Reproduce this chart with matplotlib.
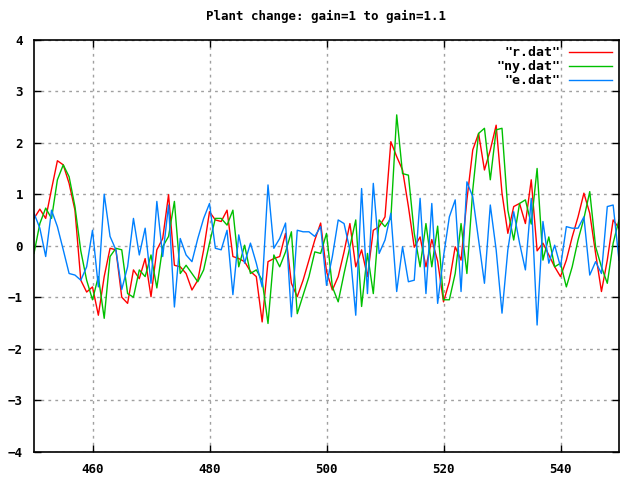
import numpy as np
import matplotlib
matplotlib.use("Agg")
import matplotlib.pyplot as plt

# sample index 450..550
x = np.arange(450, 551)

r_dat = [0.53, 0.71, 0.53, 1.10, 1.65, 1.57, 1.21, 0.69, -0.67, -0.90,
         -0.80, -1.35, -0.60, -0.05, -0.08, -1.00, -1.12, -0.47, -0.64, -0.25,
         -0.99, -0.08, 0.14, 0.99, -0.38, -0.41, -0.54, -0.86, -0.67, -0.08,
         0.66, 0.50, 0.47, 0.69, -0.21, -0.25, -0.31, -0.50, -0.60, -1.48,
         -0.31, -0.25, -0.21, 0.24, -0.73, -0.99, -0.67, -0.28, 0.11, 0.44,
         -0.50, -0.86, -0.60, -0.12, 0.43, -0.41, -0.08, -0.60, 0.30, 0.37,
         0.56, 2.02, 1.73, 1.47, 0.76, -0.03, 0.17, -0.41, 0.12, -0.30,
         -1.09, -0.70, -0.02, -0.28, 0.89, 1.86, 2.18, 1.47, 1.86, 2.34,
         1.02, 0.24, 0.76, 0.82, 0.43, 1.28, -0.10, 0.05, -0.18, -0.41,
         -0.60, -0.28, 0.17, 0.56, 1.02, 0.63, -0.15, -0.89, -0.28, 0.50,
         0.34]

ny_dat = [-0.15, 0.43, 0.73, 0.53, 1.28, 1.57, 1.34, 0.76, -0.10, -0.67,
          -1.05, -0.60, -1.41, -0.21, -0.05, -0.08, -0.93, -1.00, -0.47, -0.60,
          -0.18, -0.82, -0.02, 0.18, 0.86, -0.54, -0.38, -0.54, -0.70, -0.47,
          0.05, 0.53, 0.53, 0.40, 0.69, -0.41, 0.01, -0.54, -0.47, -0.67,
          -1.51, -0.18, -0.41, -0.12, 0.27, -1.32, -0.96, -0.60, -0.12, -0.15,
          0.24, -0.80, -1.09, -0.54, -0.02, 0.50, -1.18, -0.15, -0.93, 0.50,
          0.37, 0.53, 2.54, 1.40, 1.37, 0.24, -0.41, 0.43, -0.41, 0.38,
          -1.05, -1.05, -0.54, 0.43, -0.54, 1.08, 2.18, 2.28, 1.28, 2.25,
          2.28, 0.69, 0.11, 0.82, 0.89, 0.42, 1.50, -0.28, 0.17, -0.41,
          -0.34, -0.80, -0.41, 0.11, 0.53, 1.05, -0.02, -0.41, -0.73, 0.05,
          0.50]

e_dat = [0.63, 0.34, -0.21, 0.69, 0.37, -0.08, -0.54, -0.57, -0.67, -0.41,
         0.30, -0.80, 1.00, 0.18, -0.08, -0.85, -0.41, 0.53, -0.18, 0.34,
         -0.73, 0.86, -0.21, 0.79, -1.19, 0.14, -0.18, -0.31, 0.14, 0.53,
         0.82, -0.05, -0.08, 0.30, -0.95, 0.21, -0.34, 0.05, -0.34, -0.80,
         1.18, -0.05, 0.14, 0.44, -1.38, 0.30, 0.27, 0.27, 0.18, 0.37,
         -0.77, -0.21, 0.50, 0.43, -0.08, -1.35, 1.11, -0.93, 1.21, -0.15,
         0.11, 0.63, -0.89, -0.02, -0.70, -0.67, 0.92, -0.93, 0.82, -1.12,
         -0.21, 0.56, 0.89, -0.89, 1.24, 0.95, 0.11, -0.73, 0.79, -0.08,
         -1.31, -0.08, 0.66, 0.05, -0.47, 0.92, -1.54, 0.47, -0.34, 0.01,
         -0.41, 0.37, 0.34, 0.34, 0.56, -0.57, -0.31, -0.54, 0.76, 0.79,
         -0.28]

plt.rcParams['font.family'] = 'DejaVu Sans Mono'
plt.rcParams['font.weight'] = 'bold'
plt.rcParams['font.size'] = 9

fig = plt.figure(figsize=(6.4, 4.8), dpi=100)
ax = fig.add_axes([34/640, 1 - 451.7/480, (619 - 34)/640, (451.7 - 39.7)/480])

ax.plot(x, r_dat, color='#ff0000', lw=1, label='"r.dat"')
ax.plot(x, ny_dat, color='#00c000', lw=1, label='"ny.dat"')
ax.plot(x, e_dat, color='#0080ff', lw=1, label='"e.dat"')

ax.set_xlim(450, 550)
ax.set_ylim(-4, 4)
ax.set_xticks(np.arange(460, 541, 20))
ax.set_yticks(np.arange(-4, 5, 1))
ax.tick_params(direction='in', top=True, right=True, length=5, width=1, pad=8)
ax.grid(True, color='#a0a0a0', linestyle=(0, (2, 3)), lw=1)
for s in ax.spines.values():
    s.set_linewidth(1.2)

ax.set_title('Plant change: gain=1 to gain=1.1', fontsize=9, fontweight='bold', pad=14)
leg = ax.legend(loc='upper right', frameon=False, markerfirst=False,
                handlelength=3.3, handletextpad=0.6, borderaxespad=0.2,
                borderpad=0.3, labelspacing=0.08, fontsize=9.5)

fig.savefig('out.png', dpi=100)
